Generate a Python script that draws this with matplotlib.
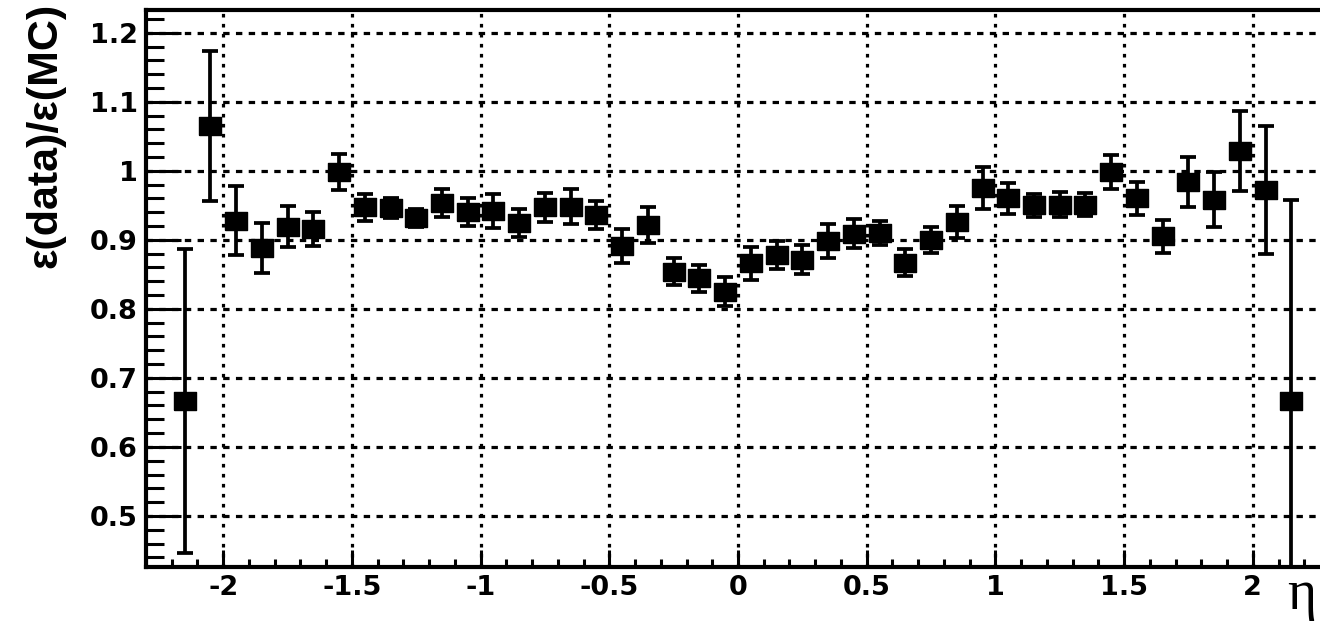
import matplotlib
matplotlib.use("Agg")
import matplotlib.pyplot as plt
from matplotlib.ticker import MultipleLocator, FixedLocator, FixedFormatter
from matplotlib import font_manager

plt.rcParams['lines.scale_dashes'] = False
plt.rcParams['axes.unicode_minus'] = False

# ---- data ----
eta = [-2.15, -2.05, -1.95, -1.85, -1.75, -1.65, -1.55, -1.45, -1.35, -1.25, -1.15,
       -1.05, -0.95, -0.85, -0.75, -0.65, -0.55, -0.45, -0.35, -0.25, -0.15, -0.05,
       0.05, 0.15, 0.25, 0.35, 0.45, 0.55, 0.65, 0.75, 0.85, 0.95, 1.05,
       1.15, 1.25, 1.35, 1.45, 1.55, 1.65, 1.75, 1.85, 1.95, 2.05, 2.15]
ratio = [0.667, 1.065, 0.928, 0.888, 0.919, 0.916, 0.998, 0.947, 0.946, 0.932, 0.953,
         0.940, 0.942, 0.924, 0.947, 0.948, 0.936, 0.891, 0.922, 0.854, 0.844, 0.825,
         0.866, 0.878, 0.871, 0.898, 0.909, 0.910, 0.867, 0.900, 0.926, 0.975, 0.960,
         0.950, 0.951, 0.951, 0.998, 0.960, 0.905, 0.984, 0.958, 1.029, 0.972, 0.667]
err = [0.220, 0.109, 0.050, 0.036, 0.030, 0.025, 0.026, 0.019, 0.014, 0.013, 0.020,
       0.020, 0.025, 0.020, 0.021, 0.025, 0.020, 0.024, 0.026, 0.020, 0.020, 0.021,
       0.024, 0.020, 0.021, 0.025, 0.021, 0.018, 0.020, 0.019, 0.023, 0.030, 0.022,
       0.017, 0.018, 0.017, 0.025, 0.024, 0.024, 0.036, 0.040, 0.058, 0.093, 0.290]
xticks = [-2, -1.5, -1, -0.5, 0, 0.5, 1, 1.5, 2]
xtick_labels = ['-2', '-1.5', '-1', '-0.5', '0', '0.5', '1', '1.5', '2']
yticks = [0.5, 0.6, 0.7, 0.8, 0.9, 1.0, 1.1, 1.2]
ytick_labels = ['0.5', '0.6', '0.7', '0.8', '0.9', '1', '1.1', '1.2']
ylabel = 'ε(data)/ε(MC)'
xlabel = 'η'

W, H = 1320, 625
fig = plt.figure(figsize=(W / 100, H / 100), dpi=100)
ax = fig.add_axes([146 / W, 58 / H, (1330 - 146) / W, 557 / H])

ax.set_xlim(-2.3, 2.3)
ax.set_ylim(0.426, 1.233)

# grid
ax.xaxis.grid(True, which='major', color='black', linewidth=2.3,
              linestyle=(0, (2.6, 4.6)), zorder=1)
ax.yaxis.grid(True, which='major', color='black', linewidth=2.3,
              linestyle=(0, (4.6, 4.6)), zorder=1)
ax.set_axisbelow(True)

# data
rect = [(-1, -0.77), (1, -0.77), (1, 0.77), (-1, 0.77), (-1, -0.77)]
ax.errorbar(eta, ratio, yerr=err, fmt='none', ecolor='black', elinewidth=2.7,
            capsize=5.8, capthick=2.7, zorder=3)
ax.plot(eta, ratio, linestyle='none', marker=rect, markersize=16.5,
        color='black', zorder=4)

# ticks
ax.xaxis.set_major_locator(FixedLocator(xticks))
ax.xaxis.set_major_formatter(FixedFormatter(xtick_labels))
ax.yaxis.set_major_locator(FixedLocator(yticks))
ax.yaxis.set_major_formatter(FixedFormatter(ytick_labels))
ax.xaxis.set_minor_locator(MultipleLocator(0.1))
ax.yaxis.set_minor_locator(MultipleLocator(0.02))

ax.tick_params(axis='both', which='both', direction='in', width=2.2, color='black',
               top=False, right=False)
ax.tick_params(axis='y', which='major', length=25, pad=6)
ax.tick_params(axis='y', which='minor', length=13)
ax.tick_params(axis='x', which='major', length=12, pad=6)
ax.tick_params(axis='x', which='minor', length=6)

for lab in ax.get_xticklabels() + ax.get_yticklabels():
    lab.set_fontfamily('DejaVu Sans')
    lab.set_fontweight('bold')
    lab.set_fontsize(19.5)

for s in ['left', 'bottom', 'top']:
    ax.spines[s].set_linewidth(3.0)
ax.spines['right'].set_visible(False)

names = {f.name for f in font_manager.fontManager.ttflist}
if 'Liberation Sans Narrow' in names:
    yfam = ['Liberation Sans Narrow', 'DejaVu Sans']
    ysize = 37
else:
    yfam = ['Liberation Sans', 'DejaVu Sans']
    ysize = 31
fig.text(45 / W, 1 - 3 / H, ylabel, rotation=90, ha='center', va='top',
         family=yfam, fontweight='bold', fontsize=ysize)
fig.text(1287 / W, 1 - 609 / H, xlabel, ha='left', va='baseline',
         family=['Liberation Serif', 'DejaVu Serif'], fontsize=40)

fig.savefig('out.png', dpi=100)
